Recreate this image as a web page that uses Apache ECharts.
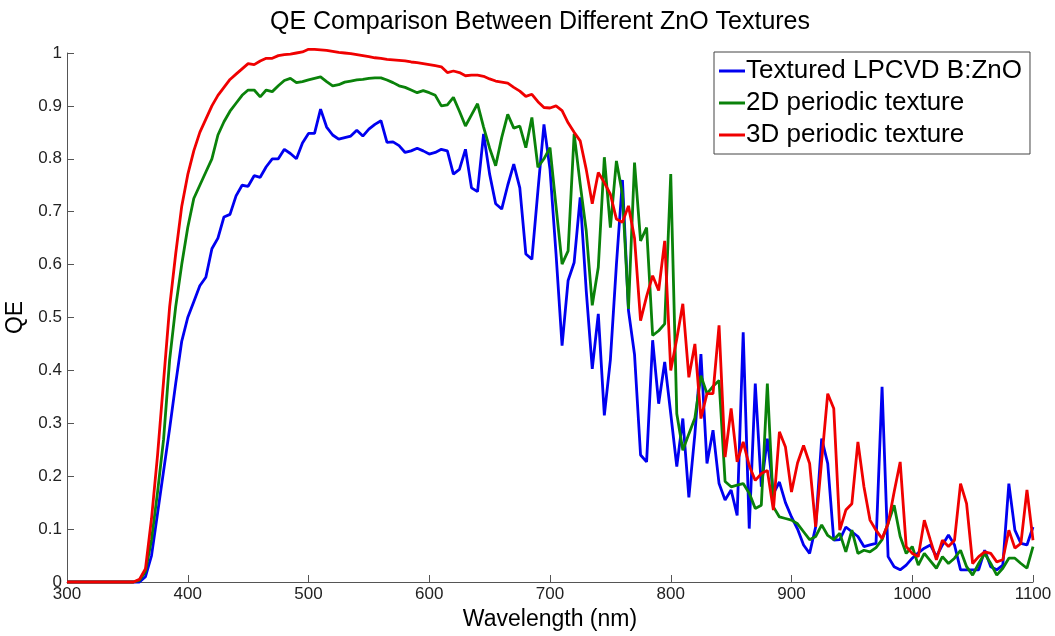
<!DOCTYPE html>
<html>
<head>
<meta charset="utf-8">
<script src="https://cdn.jsdelivr.net/npm/echarts@6/dist/echarts.min.js"></script>
<style>
html,body{margin:0;padding:0;background:#fff;}
#chart{width:1055px;height:636px;}
</style>
</head>
<body>
<div id="chart"></div>
<script>
const titleText = 'QE Comparison Between Different ZnO Textures';
const xName = 'Wavelength (nm)';
const yName = 'QE';
const seriesNames = ['Textured LPCVD B:ZnO', '2D periodic texture', '3D periodic texture'];

const wavelength = [
  300,305,310,315,320,325,330,335,340,345,
  350,355,360,365,370,375,380,385,390,395,
  400,405,410,415,420,425,430,435,440,445,
  450,455,460,465,470,475,480,485,490,495,
  500,505,510,515,520,525,530,535,540,545,
  550,555,560,565,570,575,580,585,590,595,
  600,605,610,615,620,625,630,635,640,645,
  650,655,660,665,670,675,680,685,690,695,
  700,705,710,715,720,725,730,735,740,745,
  750,755,760,765,770,775,780,785,790,795,
  800,805,810,815,820,825,830,835,840,845,
  850,855,860,865,870,875,880,885,890,895,
  900,905,910,915,920,925,930,935,940,945,
  950,955,960,965,970,975,980,985,990,995,
  1000,1005,1010,1015,1020,1025,1030,1035,1040,1045,
  1050,1055,1060,1065,1070,1075,1080,1085,1090,1095,
  1100
];

const qeLPCVD = [
  0,0,0,0,0,0,0,0,0,0,
  0,0,0,0.01,0.05,0.13,0.21,0.29,0.375,0.455,
  0.5,0.53,0.56,0.576,0.63,0.65,0.69,0.695,0.73,0.75,
  0.748,0.768,0.765,0.785,0.80,0.80,0.818,0.81,0.80,0.83,
  0.848,0.848,0.894,0.86,0.845,0.837,0.84,0.843,0.854,0.843,
  0.856,0.865,0.872,0.831,0.832,0.825,0.812,0.815,0.82,0.815,
  0.809,0.812,0.818,0.815,0.771,0.78,0.818,0.745,0.738,0.847,
  0.771,0.715,0.705,0.75,0.79,0.745,0.62,0.61,0.74,0.865,
  0.78,0.62,0.447,0.57,0.604,0.727,0.551,0.403,0.507,0.315,
  0.42,0.60,0.76,0.513,0.43,0.24,0.227,0.457,0.337,0.416,
  0.318,0.218,0.309,0.16,0.28,0.431,0.224,0.287,0.186,0.155,
  0.174,0.126,0.472,0.101,0.375,0.18,0.271,0.167,0.189,0.15,
  0.123,0.1,0.07,0.054,0.104,0.271,0.224,0.079,0.08,0.104,
  0.095,0.086,0.067,0.07,0.073,0.369,0.048,0.029,0.023,0.032,
  0.045,0.055,0.064,0.07,0.048,0.07,0.089,0.07,0.023,0.023,
  0.023,0.023,0.06,0.029,0.023,0.032,0.186,0.098,0.073,0.07,
  0.104
];

const qe2D = [
  0,0,0,0,0,0,0,0,0,0,
  0,0,0.003,0.02,0.08,0.17,0.27,0.42,0.52,0.6,
  0.67,0.725,0.75,0.775,0.8,0.845,0.87,0.89,0.905,0.92,
  0.93,0.93,0.917,0.93,0.927,0.938,0.948,0.952,0.944,0.946,
  0.949,0.952,0.955,0.946,0.938,0.94,0.945,0.947,0.949,0.95,
  0.952,0.953,0.953,0.949,0.944,0.938,0.935,0.93,0.925,0.929,
  0.925,0.92,0.9,0.902,0.916,0.89,0.862,0.883,0.904,0.86,
  0.82,0.787,0.84,0.884,0.858,0.862,0.821,0.878,0.784,0.8,
  0.821,0.71,0.601,0.626,0.847,0.752,0.664,0.523,0.595,0.803,
  0.67,0.796,0.733,0.516,0.793,0.645,0.67,0.466,0.475,0.488,
  0.771,0.318,0.249,0.28,0.31,0.39,0.356,0.37,0.381,0.19,
  0.18,0.183,0.186,0.168,0.139,0.145,0.375,0.142,0.123,0.12,
  0.117,0.11,0.095,0.08,0.086,0.108,0.088,0.08,0.092,0.057,
  0.098,0.054,0.06,0.057,0.065,0.08,0.111,0.145,0.086,0.054,
  0.067,0.032,0.054,0.04,0.026,0.048,0.035,0.045,0.06,0.029,
  0.013,0.035,0.054,0.035,0.013,0.026,0.045,0.045,0.035,0.026,
  0.067
];

const qe3D = [
  0,0,0,0,0,0,0,0,0,0,
  0,0,0.005,0.025,0.12,0.24,0.38,0.52,0.62,0.71,
  0.77,0.815,0.85,0.875,0.9,0.92,0.935,0.95,0.96,0.97,
  0.98,0.978,0.985,0.99,0.99,0.995,0.997,0.998,1.0,1.002,
  1.007,1.007,1.006,1.005,1.003,1.001,1.0,0.999,0.997,0.995,
  0.993,0.991,0.99,0.988,0.987,0.986,0.985,0.983,0.982,0.98,
  0.978,0.976,0.974,0.963,0.966,0.963,0.957,0.958,0.958,0.956,
  0.951,0.947,0.945,0.943,0.935,0.928,0.918,0.922,0.908,0.897,
  0.896,0.9,0.891,0.868,0.85,0.834,0.78,0.715,0.774,0.755,
  0.733,0.686,0.68,0.711,0.65,0.494,0.54,0.579,0.551,0.645,
  0.40,0.46,0.526,0.387,0.45,0.309,0.356,0.356,0.485,0.236,
  0.328,0.227,0.265,0.22,0.192,0.205,0.211,0.136,0.284,0.255,
  0.17,0.225,0.258,0.224,0.104,0.23,0.356,0.328,0.098,0.136,
  0.148,0.265,0.18,0.117,0.098,0.082,0.11,0.17,0.227,0.067,
  0.054,0.048,0.117,0.079,0.042,0.079,0.067,0.079,0.186,0.148,
  0.035,0.048,0.057,0.054,0.038,0.042,0.098,0.064,0.073,0.174,
  0.079
];

const seriesValues = [qeLPCVD, qe2D, qe3D];
const seriesColors = ['#0000F0', '#0A820A', '#F00000'];

const FONT = "'Liberation Sans', Arial, sans-serif";
const chart = echarts.init(document.getElementById('chart'), null, {renderer: 'canvas'});

const series = seriesNames.map((name, k) => ({
  name: name,
  type: 'line',
  showSymbol: false,
  symbol: 'none',
  clip: false,
  animation: false,
  lineStyle: {width: 2.8, color: seriesColors[k]},
  itemStyle: {color: seriesColors[k]},
  data: wavelength.map((w, i) => [w, seriesValues[k][i]])
}));

chart.setOption({
  animation: false,
  backgroundColor: '#ffffff',
  textStyle: {fontFamily: FONT},
  title: {
    text: titleText,
    left: 535,
    textAlign: 'center',
    top: 5,
    textStyle: {fontFamily: FONT, fontSize: 25, fontWeight: 'normal', color: '#000'}
  },
  legend: {
    orient: 'vertical',
    left: 714,
    top: 52,
    padding: [6, 8, 6, 5],
    itemGap: 6,
    itemWidth: 26,
    itemHeight: 3,
    icon: 'rect',
    borderColor: '#444',
    borderWidth: 1,
    backgroundColor: '#fff',
    textStyle: {fontFamily: FONT, fontSize: 26, color: '#000', padding: [0, 0, 0, -4]},
    data: seriesNames
  },
  grid: {left: 67, right: 22, top: 53, bottom: 54, containLabel: false, outerBoundsMode: 'none'},
  xAxis: {
    type: 'value',
    min: 300, max: 1100, interval: 100,
    name: xName,
    nameLocation: 'middle',
    nameGap: 24,
    nameTextStyle: {fontFamily: FONT, fontSize: 23, color: '#000'},
    axisLine: {show: true, lineStyle: {color: '#555', width: 1}},
    axisTick: {show: true, inside: true, length: 7, lineStyle: {color: '#555'}},
    axisLabel: {fontFamily: FONT, fontSize: 17, color: '#222', margin: 4,
      formatter: v => String(v)},
    splitLine: {show: false}
  },
  yAxis: {
    type: 'value',
    min: 0, max: 1, interval: 0.1,
    name: yName,
    nameLocation: 'middle',
    nameGap: 34,
    nameRotate: 90,
    nameTextStyle: {fontFamily: FONT, fontSize: 23, color: '#000'},
    axisLine: {show: true, lineStyle: {color: '#555', width: 1}},
    axisTick: {show: true, inside: true, length: 7, lineStyle: {color: '#555'}},
    axisLabel: {fontFamily: FONT, fontSize: 17, color: '#222', margin: 5,
      formatter: v => String(+v.toFixed(1))},
    splitLine: {show: false}
  },
  series: series
});
</script>
</body>
</html>
